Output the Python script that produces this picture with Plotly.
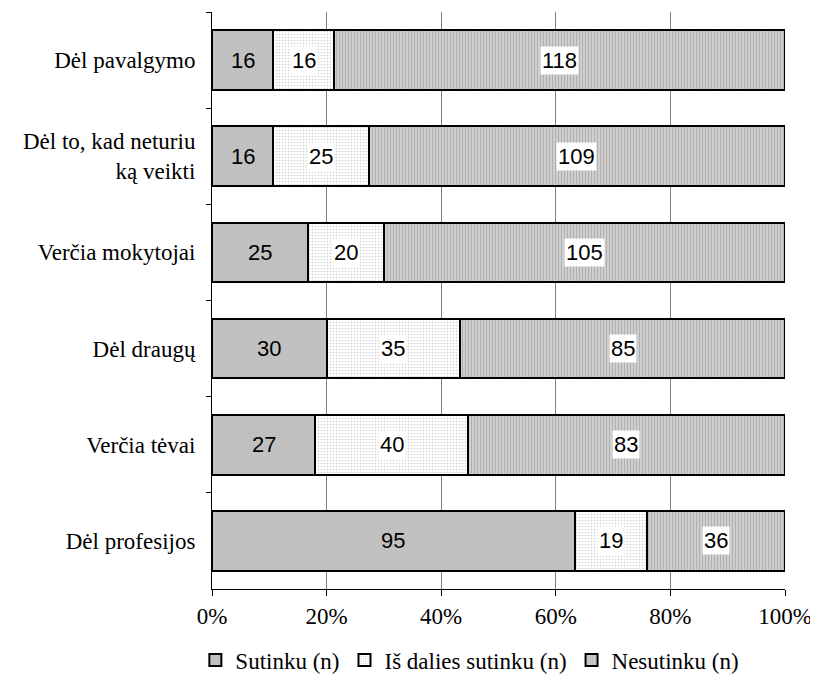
import plotly.graph_objects as go

categories = ["Dėl pavalgymo", "Dėl to, kad neturiu<br>ką veikti", "Verčia mokytojai",
              "Dėl draugų", "Verčia tėvai", "Dėl profesijos"]
sutinku = [16, 16, 25, 30, 27, 95]
is_dalies = [16, 25, 20, 35, 40, 19]
nesutinku = [118, 109, 105, 85, 83, 36]
series_names = ["Sutinku (n)", "Iš dalies sutinku (n)", "Nesutinku (n)"]
x_ticks = [0, 20, 40, 60, 80, 100]

series = [sutinku, is_dalies, nesutinku]
styles = [
    dict(color="#c0c0c0"),
    dict(color="white", pattern=dict(shape=".", fgcolor="#a8a8a8", bgcolor="white", size=3, solidity=0.25)),
    dict(color="#c8c8c8", pattern=dict(shape="|", fgcolor="#8c8c8c", bgcolor="#d4d4d4", size=3, solidity=0.45)),
]

SERIF = "Times New Roman, Liberation Serif, serif"
SANS = "Arial, Liberation Sans, sans-serif"

fig = go.Figure()
for name, vals, st in zip(series_names, series, styles):
    fig.add_trace(go.Bar(
        y=categories, x=vals, name=name, orientation="h",
        marker=dict(line=dict(color="black", width=2), **st),
        width=0.62,
    ))

# data labels
annotations = []
for i, cat in enumerate(categories):
    total = sum(s[i] for s in series)
    cum = 0
    for k, s in enumerate(series):
        pct = s[i] / total * 100
        mid = cum + pct / 2
        cum += pct
        annotations.append(dict(
            x=mid, y=cat, xref="x", yref="y", text=str(s[i]), showarrow=False,
            font=dict(family=SANS, size=22, color="black"),
            bgcolor="white" if k > 0 else "rgba(0,0,0,0)", borderpad=1,
        ))

fig.update_layout(
    barmode="stack", barnorm="percent",
    width=818, height=682,
    margin=dict(l=204, r=41, t=4, b=101, autoexpand=False),
    plot_bgcolor="white", paper_bgcolor="white",
    font=dict(family=SERIF, size=24, color="black"),
    annotations=annotations,
    legend=dict(orientation="h", x=0.45, xanchor="center", y=-0.123, yanchor="middle",
                font=dict(family=SERIF, size=23),
                traceorder="normal", tracegroupgap=0),
)
fig.update_xaxes(range=[0, 100], tickvals=x_ticks, ticktext=[f"{v}%" for v in x_ticks],
                 showgrid=True, gridcolor="#808080", gridwidth=1,
                 showline=True, linecolor="black", linewidth=1,
                 ticks="outside", ticklen=6, tickcolor="black", zeroline=False,
                 tickfont=dict(family=SERIF, size=23), automargin=False)
fig.update_yaxes(autorange="reversed", showline=True, linecolor="black", linewidth=1,
                 ticks="outside", ticklen=5, tickcolor="black", tickson="boundaries",
                 showgrid=False, tickfont=dict(family=SERIF, size=23), ticklabelstandoff=11,
                 automargin=False)

fig.write_html("out.html")
